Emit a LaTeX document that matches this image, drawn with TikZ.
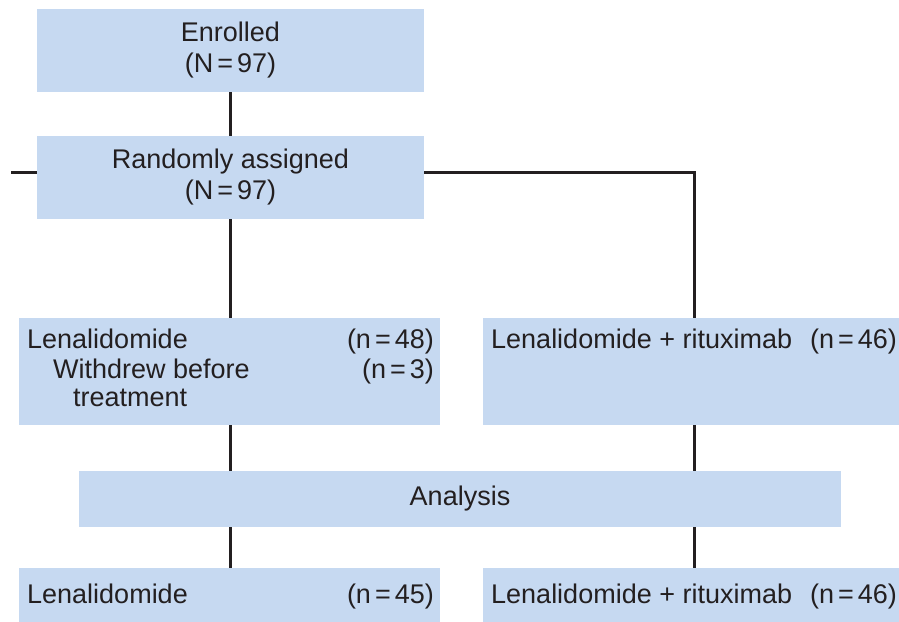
\documentclass[tikz,border=0pt]{standalone}
\usepackage{fontspec}
\setmainfont{Liberation Sans}
\definecolor{boxblue}{HTML}{C6D9F1}
\definecolor{ink}{HTML}{231F20}
\newcommand{\eqn}[1]{(#1)}
\begin{document}
\begin{tikzpicture}[x=1pt,y=1pt,
  box/.style={rectangle, fill=boxblue, draw=none, inner sep=0pt, text=ink,
    align=center, font=\fontsize{27}{31}\selectfont},
  txt/.style={inner sep=0pt, text=ink, font=\fontsize{27}{31}\selectfont},
  link/.style={draw=ink, line width=3pt}]
\useasboundingbox (0,0) rectangle (899,621);
\begin{scope}
\clip (0,0) rectangle (899,621);
% boxes
\node[box, minimum width=387pt, minimum height=83pt] (enr) at (230.5,570.5) {Enrolled\\(N\hspace{4pt}=\hspace{4pt}97)};
\node[box, minimum width=387pt, minimum height=83pt] (rand) at (230.5,443.5) {Randomly assigned\\(N\hspace{4pt}=\hspace{4pt}97)};
\node[box, minimum width=421pt, minimum height=107pt] (len) at (229.5,249.5) {};
\node[box, minimum width=422pt, minimum height=107pt] (lr) at (694,249.5) {};
\node[box, minimum width=762pt, minimum height=56pt] (ana) at (460,122) {Analysis};
\node[box, minimum width=421pt, minimum height=72pt] (bl) at (229.5,17) {};
\node[box, minimum width=422pt, minimum height=72pt] (br) at (694,17) {};
% texts in boxes
\node[txt, anchor=base west] (t1) at (27,272) {Lenalidomide};
\node[txt, anchor=base west] (t2) at (53,242) {Withdrew before};
\node[txt, anchor=base west] (t3) at (73,214) {treatment};
\node[txt, anchor=base east] (t4) at (434,272) {(n\hspace{4pt}=\hspace{4pt}48)};
\node[txt, anchor=base east] (t5) at (434,242) {(n\hspace{4pt}=\hspace{4pt}3)};
\node[txt, anchor=base west] (t6) at (491,272) {Lenalidomide + rituximab};
\node[txt, anchor=base east] (t7) at (897,272) {(n\hspace{4pt}=\hspace{4pt}46)};
\node[txt, anchor=base west] (t8) at (27,18) {Lenalidomide};
\node[txt, anchor=base east] (t9) at (434,18) {(n\hspace{4pt}=\hspace{4pt}45)};
\node[txt, anchor=base west] (t10) at (491,18) {Lenalidomide + rituximab};
\node[txt, anchor=base east] (t11) at (897,18) {(n\hspace{4pt}=\hspace{4pt}46)};
% connectors
\coordinate (lft) at (11,448);
\draw[link] (enr.south) -- (rand.north);
\draw[link] (rand.west |- lft) -- (lft);
\draw[link] (rand.east |- lft) -| (lr.north);
\draw[link] (rand.south) -- (rand.south |- len.north);
\draw[link] (len.south -| rand.south) -- (ana.north -| rand.south);
\draw[link] (lr.south) -- (ana.north -| lr.south);
\draw[link] (ana.south -| rand.south) -- (bl.north -| rand.south);
\draw[link] (ana.south -| lr.south) -- (br.north);
\end{scope}
\end{tikzpicture}
\end{document}
